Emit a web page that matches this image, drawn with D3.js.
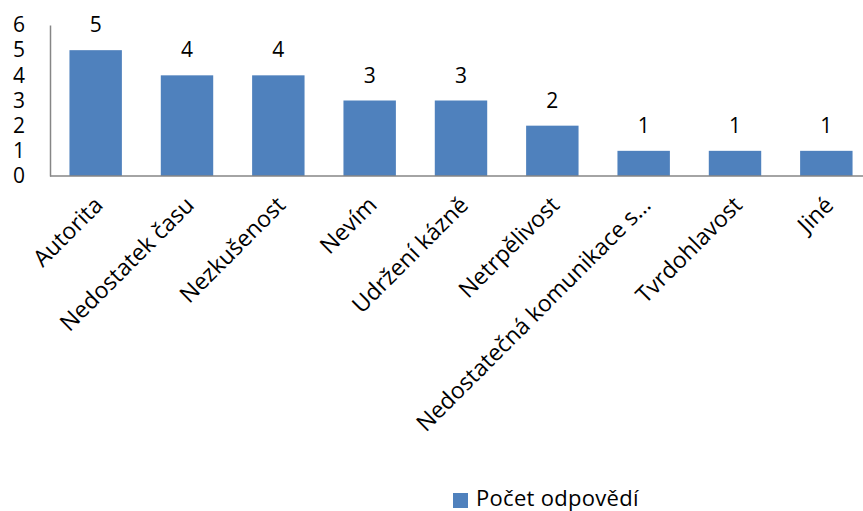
<!DOCTYPE html>
<html>
<head>
<meta charset="utf-8">
<script src="https://cdnjs.cloudflare.com/ajax/libs/d3/7.8.5/d3.min.js"></script>
<style>
  html, body { margin: 0; padding: 0; background: #fff; }
  svg { display: block; }
  text { font-family: "Open Sans", sans-serif; fill: #000; }
</style>
</head>
<body>
<svg id="chart" width="863" height="511"></svg>
<script>
// Reasons reported, and number of answers for each
const categories = ["Autorita", "Nedostatek času", "Nezkušenost", "Nevím", "Udržení kázně",
  "Netrpělivost", "Nedostatečná komunikace s…", "Tvrdohlavost", "Jiné"];
const values = [5, 4, 4, 3, 3, 2, 1, 1, 1];
const yTicks = [0, 1, 2, 3, 4, 5, 6];
const seriesName = "Počet odpovědí";

const svg = d3.select("#chart");
const plot = { left: 50, right: 872, top: 25, bottom: 176 };
const barColor = "#4F81BD";
const axisColor = "#868686";
const numSize = 21;
const labelSize = 23;

const x = d3.scaleBand().domain(categories).range([plot.left, plot.right]).paddingInner(0.426).paddingOuter(0.213);
const y = d3.scaleLinear().domain([0, 6]).range([plot.bottom, plot.top]);

// Y axis: labels only, plus a plain vertical line
const yAxis = d3.axisLeft(y).tickValues(yTicks).tickSize(0).tickPadding(25).tickFormat(d3.format("d"));
const gy = svg.append("g").attr("transform", `translate(${plot.left},0)`).call(yAxis);
gy.select(".domain").attr("stroke", axisColor).attr("stroke-width", 1.5);
gy.selectAll("text").attr("font-size", numSize).attr("font-family", "'Open Sans', sans-serif").attr("fill", "#000");

// Bars
svg.append("g").selectAll("rect").data(values).join("rect")
  .attr("x", (d, i) => x(categories[i]))
  .attr("y", d => y(d))
  .attr("width", x.bandwidth())
  .attr("height", d => y(0) - y(d))
  .attr("fill", barColor);

// Value labels above each bar
svg.append("g").selectAll("text").data(values).join("text")
  .attr("x", (d, i) => x(categories[i]) + x.bandwidth() / 2)
  .attr("y", d => y(d) - 18)
  .attr("text-anchor", "middle")
  .attr("font-size", numSize)
  .text(d => d);

// X axis baseline
svg.append("line")
  .attr("x1", plot.left).attr("x2", 863)
  .attr("y1", y(0)).attr("y2", y(0))
  .attr("stroke", axisColor).attr("stroke-width", 1.5);

// Rotated category labels
svg.append("g").selectAll("text").data(categories).join("text")
  .attr("transform", d => `translate(${x(d) + x.bandwidth() / 2 - 3},${plot.bottom + 19}) rotate(-45)`)
  .attr("text-anchor", "end")
  .attr("dy", "0.71em")
  .attr("font-size", labelSize)
  .text(d => d);

// Legend
const legend = svg.append("g").attr("transform", "translate(453,493)");
legend.append("rect").attr("width", 15).attr("height", 15).attr("fill", barColor);
legend.append("text").attr("x", 23).attr("y", 13).attr("font-size", 22).attr("letter-spacing", 0.3).text(seriesName);
</script>
</body>
</html>
